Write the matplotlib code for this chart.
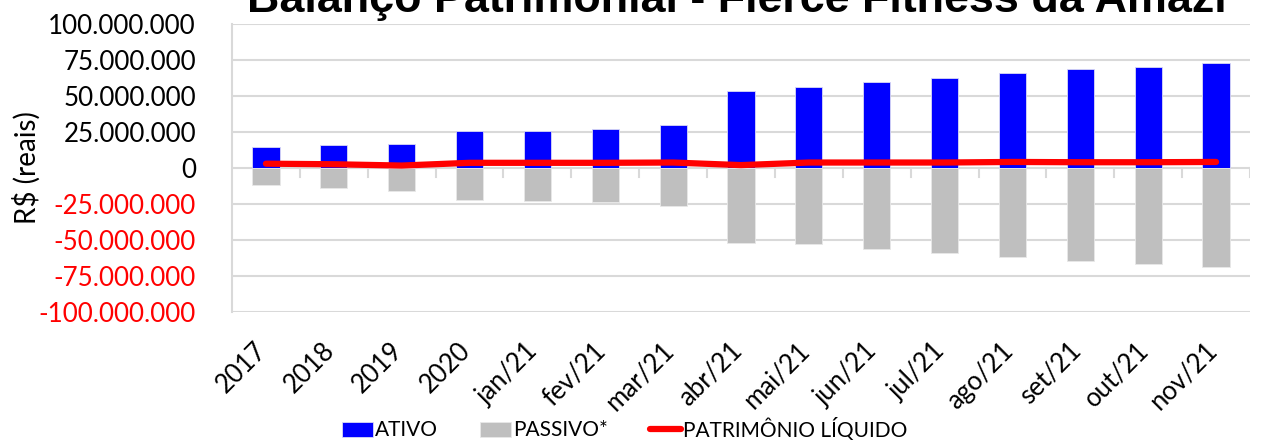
import matplotlib.pyplot as plt
import matplotlib.transforms as mtransforms
from matplotlib.ticker import FuncFormatter
import numpy as np

categories = ["2017", "2018", "2019", "2020", "jan/21", "fev/21", "mar/21", "abr/21",
              "mai/21", "jun/21", "jul/21", "ago/21", "set/21", "out/21", "nov/21"]
ativo = [14.6, 16.2, 16.9, 25.5, 26.0, 26.9, 29.6, 53.5,
         56.5, 60.0, 62.2, 65.7, 68.5, 70.4, 72.6]  # milhões
passivo = [-11.8, -14.1, -15.7, -22.4, -22.9, -23.8, -26.4, -52.0,
           -53.0, -56.5, -59.0, -61.8, -64.8, -66.5, -68.8]
patrimonio = [3.0, 2.6, 1.7, 3.6, 3.6, 3.6, 3.8, 2.0,
              3.8, 3.8, 3.8, 4.2, 4.0, 4.0, 4.2]
yticks = [100, 75, 50, 25, 0, -25, -50, -75, -100]

plt.rcParams["font.family"] = ["Lato", "DejaVu Sans"]

fig = plt.figure(figsize=(12.69, 4.42), dpi=100)
ax = fig.add_axes([232 / 1269, 1 - 312 / 442, (1250 - 232) / 1269, 288 / 442])

x = np.arange(len(categories))
scale = 1e6
h_at = ax.bar(x, np.array(ativo) * scale, width=0.4, color="#0000FF", edgecolor="#D9D9F5",
              linewidth=0.6, label="ATIVO", zorder=2)
h_pa = ax.bar(x, np.array(passivo) * scale, width=0.4, color="#BFBFBF", edgecolor="#E8E8E8",
              linewidth=0.6, label="PASSIVO*", zorder=2)
h_pl, = ax.plot(x, np.array(patrimonio) * scale, color="#FF0000", lw=4.5,
                solid_capstyle="round", label="PATRIMÔNIO LÍQUIDO", zorder=3)

ax.set_xlim(-0.5, len(categories) - 0.5)
ax.set_ylim(-100 * scale, 100 * scale)
ax.set_yticks(np.array(yticks) * scale)


def fmt(v, pos):
    s = f"{abs(v):,.0f}".replace(",", ".")
    return ("-" + s) if v < 0 else s


ax.yaxis.set_major_formatter(FuncFormatter(fmt))
ax.tick_params(axis="y", length=0, labelsize=18.7, pad=26)
for lbl, v in zip(ax.get_yticklabels(), ax.get_yticks()):
    lbl.set_color("#FF0000" if v < 0 else "black")

ax.grid(axis="y", color="#D9D9D9", lw=1.5, zorder=0)
ax.set_axisbelow(True)
for s in ["top", "right", "bottom"]:
    ax.spines[s].set_visible(False)
ax.spines["left"].set_color("#D9D9D9")
ax.spines["left"].set_linewidth(1.5)

# category labels and boundary ticks on the zero line
ax.set_xticks(x)
ax.set_xticklabels(categories, rotation=45, ha="right", rotation_mode="anchor", fontsize=18.5)
ax.tick_params(axis="x", length=0, pad=0)
shift = mtransforms.ScaledTranslation(-12 / 100, 0, fig.dpi_scale_trans)
for lbl in ax.get_xticklabels():
    lbl.set_y(-0.09)
    lbl.set_transform(lbl.get_transform() + shift)
for b in np.arange(0.5, len(categories), 1):
    ax.plot([b, b], [0, -6.5 * scale], color="#D9D9D9", lw=1.5, zorder=1)

ax.set_ylabel("R$ (reais)", fontsize=20)
ax.yaxis.set_label_coords(-0.188, 0.5)

fig.text(0.581, 1 - 12 / 442, "Balanço Patrimonial - Fierce Fitness da Amazi",
         ha="center", va="baseline", fontsize=32.3, fontweight="bold",
         family="Liberation Sans")

fig.legend(handles=[h_at, h_pa, h_pl], loc="center left", bbox_to_anchor=(342 / 1269, 1 - 429 / 442),
           ncol=3, frameon=False, fontsize=15,
           handlelength=1.5, handleheight=0.72, columnspacing=2.0, handletextpad=0.1,
           borderpad=0, borderaxespad=0)

fig.savefig("out.png", dpi=100)
